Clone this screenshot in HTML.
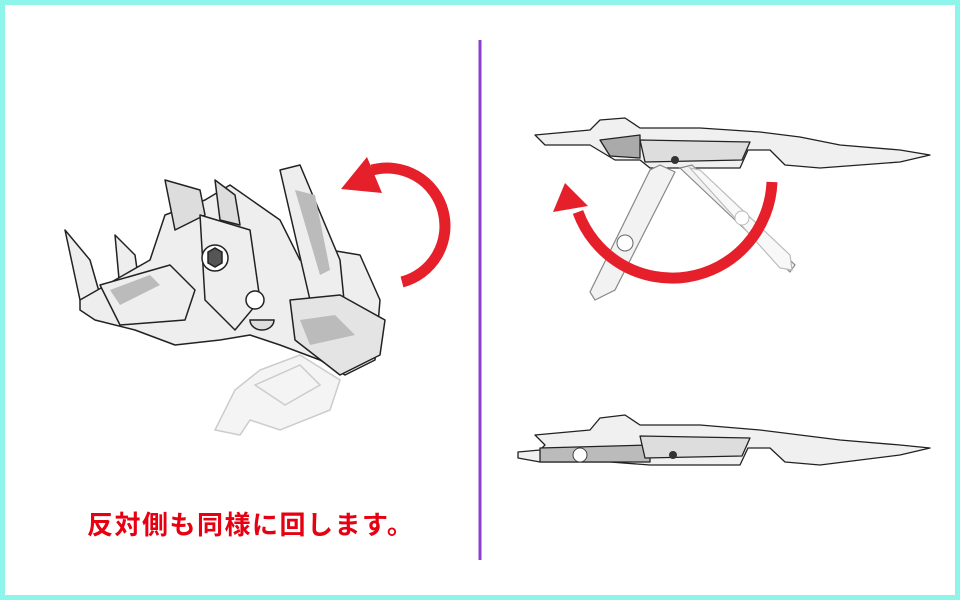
<!DOCTYPE html>
<html><head><meta charset="utf-8"><style>
html,body{margin:0;padding:0;background:#fff}
.f{position:relative;width:950px;height:590px;border:5px solid #8ef5ea;background:#fff;overflow:hidden}
svg{position:absolute;left:-5px;top:-5px}
.t{position:absolute;left:82px;top:500px;font:26px "Liberation Sans","Noto Sans CJK JP",sans-serif;color:#e60012;letter-spacing:1.5px;white-space:nowrap;font-weight:bold}
</style></head><body><div class="f">
<svg width="960" height="600" viewBox="0 0 960 600">
<line x1="480" y1="40" x2="480" y2="560" stroke="#8b3fd0" stroke-width="3"/>
<g fill="#f4f4f4" stroke="#ccc" stroke-width="1.5">
<polygon points="215,430 235,390 260,370 300,355 340,380 330,410 280,430 250,420 240,435"/>
<polygon points="255,385 300,365 320,385 285,405"/>
</g>
<g fill="#eee" stroke="#222" stroke-width="1.5" stroke-linejoin="round">
<polygon points="65,230 90,260 100,295 80,300"/>
<polygon points="115,235 135,255 140,290 120,290"/>
<polygon points="80,300 150,260 165,215 205,200 230,185 280,220 300,260 330,250 360,255 380,300 375,360 345,375 320,360 280,345 250,335 220,340 175,345 135,330 95,320 80,310"/>
<polygon points="165,180 200,190 205,215 175,230" fill="#ddd"/>
<polygon points="215,180 235,195 240,225 220,220" fill="#ddd"/>
<polygon points="280,170 300,165 340,260 345,310 330,320 310,300"/>
<polygon points="200,215 250,230 260,300 235,330 205,300"/>
<polygon points="100,285 170,265 195,290 185,320 120,325"/>
<polygon points="290,300 340,295 385,320 380,355 340,375 295,340" fill="#e4e4e4"/>
</g>
<g fill="#fff" stroke="#222" stroke-width="1.5">
<circle cx="215" cy="258" r="13"/>
<polygon points="208,252 215,248 222,252 222,263 215,267 208,263" fill="#555"/>
<circle cx="255" cy="300" r="9"/>
<path d="M250,320 a12,10 0 1 0 24,0 z" fill="#ddd"/>
</g>
<g fill="#bbb" stroke="none">
<polygon points="110,290 150,275 160,285 120,305"/>
<polygon points="295,190 315,195 330,270 320,275"/>
<polygon points="300,320 335,315 355,335 310,345"/>
</g>
<path d="M402,282 A56,56 0 0 0 372,170" fill="none" stroke="#e5202a" stroke-width="11"/>
<polygon points="341,189 367,157 382,193" fill="#e5202a"/>
<g stroke="#222" stroke-width="1.3" stroke-linejoin="round">
<polygon points="535,135 590,130 600,120 625,118 640,128 700,128 760,132 800,137 840,145 900,150 930,155 900,162 820,168 785,165 770,150 748,150 740,168 650,168 640,160 615,160 590,145 545,145" fill="#f0f0f0"/>
<polygon points="640,140 750,142 742,160 645,162" fill="#ddd"/>
<polygon points="600,140 640,135 640,158 610,156" fill="#aaa"/>
</g>
<g fill="#f2f2f2" stroke="#888" stroke-width="1.2">
<polygon points="660,165 675,172 615,290 595,300 590,292 650,170"/>
<polygon points="680,168 692,165 795,265 790,272"/>
</g>
<g fill="#f8f8f8" stroke="#bbb" stroke-width="1.2">
<polygon points="690,168 700,170 790,255 792,270 780,268"/>
</g>
<circle cx="625" cy="243" r="8" fill="#fff" stroke="#666"/>
<circle cx="742" cy="218" r="7" fill="#fff" stroke="#bbb"/>
<circle cx="675" cy="160" r="4" fill="#333"/>
<path d="M772,182 A100,100 0 0 1 578,212" fill="none" stroke="#e5202a" stroke-width="11"/>
<polygon points="565,183 553,212 588,206" fill="#e5202a"/>
<g stroke="#222" stroke-width="1.3" stroke-linejoin="round">
<polygon points="535,435 590,430 600,418 625,415 640,425 700,425 760,430 800,435 840,440 900,445 930,448 900,455 820,465 785,462 770,448 748,448 740,465 650,465 610,462 540,462 518,458 518,452 540,450 545,445" fill="#f0f0f0"/>
<polygon points="540,448 650,445 650,462 540,462" fill="#bbb"/>
<polygon points="640,436 750,438 742,456 645,458" fill="#ddd"/>
</g>
<circle cx="580" cy="455" r="7" fill="#fff" stroke="#444"/>
<circle cx="673" cy="455" r="4" fill="#333"/>
</svg>
<div class="t">反対側も同様に回します。</div>
</div></body></html>
